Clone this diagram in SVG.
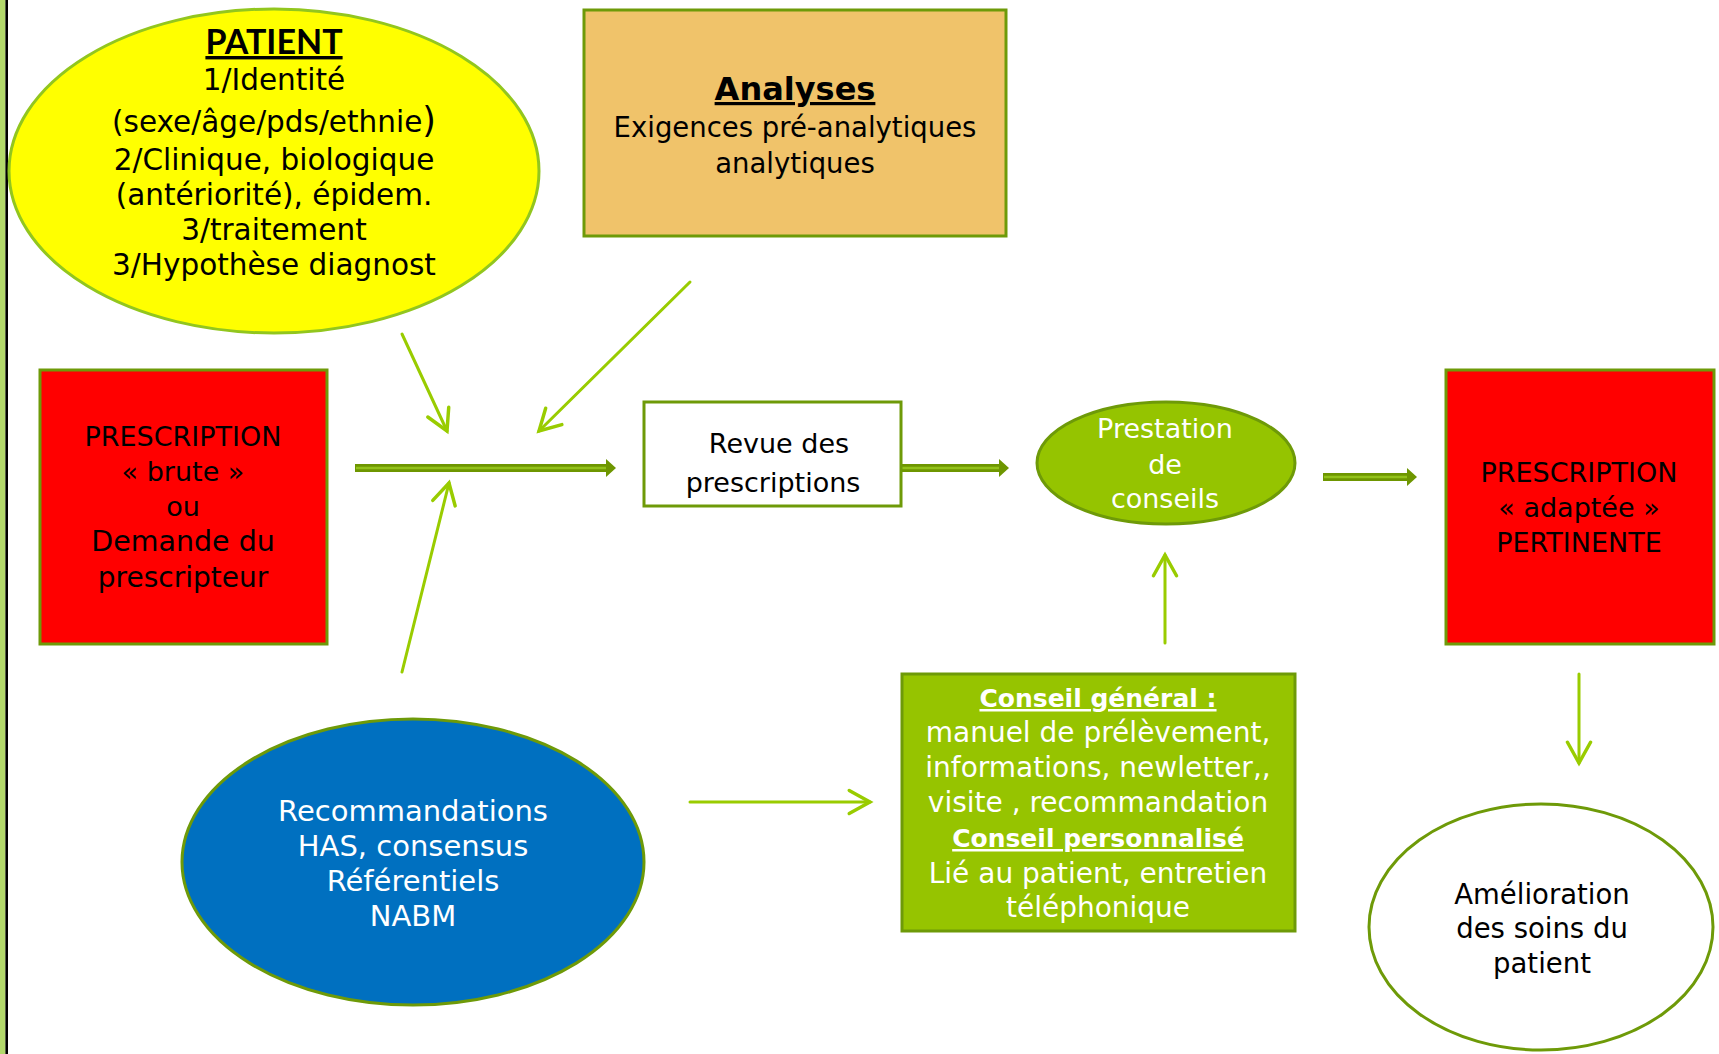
<svg xmlns="http://www.w3.org/2000/svg" width="1719" height="1054" viewBox="0 0 1719 1054">
<style>
  text { font-family: "DejaVu Sans", "Liberation Sans", sans-serif; text-anchor: middle; }
  .b { font-size: 27px; fill: #000; }
  .w { font-size: 27px; fill: #fff; }
  .pat { font-size: 29.5px; fill: #000; }
  .ttl { font-weight: bold; text-decoration: underline; }
  .thin { stroke: #99CC00; stroke-width: 3; fill: none; stroke-linecap: round; }
  .dshaft { stroke: #6E9600; stroke-width: 8; }
  .dinner { stroke: #93C21A; stroke-width: 2.5; }
  .dhead { fill: #6E9600; }
</style>
<defs>
  <marker id="open" markerUnits="userSpaceOnUse" markerWidth="30" markerHeight="30" refX="0" refY="0" viewBox="-22 -13 26 26" orient="auto">
    <path d="M -18 -10 L 0 0 L -18 10" fill="none" stroke="#99CC00" stroke-width="3" stroke-linecap="round" stroke-linejoin="miter"/>
  </marker>
</defs>
<rect width="1719" height="1054" fill="#fff"/>
<g id="sidebar">
  <rect x="0" y="0" width="5.5" height="1054" fill="#B3D96B"/>
  <line x1="6.7" y1="0" x2="6.7" y2="1054" stroke="#000" stroke-width="2.6"/>
</g>

<g id="connectors">
  <line class="thin" x1="402" y1="334" x2="447" y2="431" marker-end="url(#open)"/>
  <line class="thin" x1="690" y1="282" x2="539" y2="431" marker-end="url(#open)"/>
  <line class="thin" x1="402" y1="672" x2="449" y2="483" marker-end="url(#open)"/>
  <line class="thin" x1="1165" y1="643" x2="1165" y2="555" marker-end="url(#open)"/>
  <line class="thin" x1="690" y1="802" x2="870" y2="802" marker-end="url(#open)"/>
  <line class="thin" x1="1579" y1="674" x2="1579" y2="763" marker-end="url(#open)"/>

  <g id="dbl1">
    <line class="dshaft" x1="355" y1="468" x2="608" y2="468"/>
    <line class="dinner" x1="356" y1="468" x2="607" y2="468"/>
    <polygon class="dhead" points="606,459 616,468 606,477"/>
  </g>
  <g id="dbl2">
    <line class="dshaft" x1="901" y1="468" x2="1001" y2="468"/>
    <line class="dinner" x1="902" y1="468" x2="1000" y2="468"/>
    <polygon class="dhead" points="999,459 1009,468 999,477"/>
  </g>
  <g id="dbl3">
    <line class="dshaft" x1="1323" y1="477" x2="1409" y2="477"/>
    <line class="dinner" x1="1324" y1="477" x2="1408" y2="477"/>
    <polygon class="dhead" points="1407,468 1417,477 1407,486"/>
  </g>
</g>

<g id="patient">
  <ellipse cx="274" cy="171" rx="265" ry="162" fill="#FFFF00" stroke="#92C61E" stroke-width="3"/>
  <text x="274" y="54" class="ttl" style="font-family: Lato, 'DejaVu Sans', sans-serif; font-size: 34px;" fill="#000">PATIENT</text>
  <text x="274" y="90" class="pat">1/Identité</text>
  <text x="274" y="132" class="pat">(sexe/âge/pds/ethnie<tspan style="font-size:35px">)</tspan></text>
  <text x="274" y="170" class="pat">2/Clinique, biologique</text>
  <text x="274" y="205" class="pat">(antériorité), épidem.</text>
  <text x="274" y="240" class="pat">3/traitement</text>
  <text x="274" y="275" class="pat">3/Hypothèse diagnost</text>
</g>

<g id="analyses">
  <rect x="584" y="10" width="422" height="226" fill="#F0C36A" stroke="#6E9A08" stroke-width="3"/>
  <text x="795" y="100" class="ttl" style="font-size: 32px;" fill="#000">Analyses</text>
  <text x="795" y="137" class="b" style="font-size:27.5px">Exigences pré-analytiques</text>
  <text x="795" y="173" class="b" style="font-size:27.5px">analytiques</text>
</g>

<g id="prescription-brute">
  <rect x="40" y="370" width="287" height="274" fill="#FF0000" stroke="#6E9A08" stroke-width="3"/>
  <text x="183" y="446" class="b">PRESCRIPTION</text>
  <text x="183" y="481" class="b">« brute »</text>
  <text x="183" y="516" class="b">ou</text>
  <text x="183" y="551" class="b" style="font-size:28.5px">Demande du</text>
  <text x="183" y="587" class="b" style="font-size:28px">prescripteur</text>
</g>

<g id="revue">
  <rect x="644" y="402" width="257" height="104" fill="#fff" stroke="#6E9A08" stroke-width="3"/>
  <text x="779" y="453" class="b">Revue des</text>
  <text x="773" y="492" class="b">prescriptions</text>
</g>

<g id="prestation">
  <ellipse cx="1166" cy="463" rx="129" ry="61" fill="#95C400" stroke="#6E9A08" stroke-width="3"/>
  <text x="1165" y="438" class="w">Prestation</text>
  <text x="1165" y="474" class="w">de</text>
  <text x="1165" y="508" class="w">conseils</text>
</g>

<g id="prescription-adaptee">
  <rect x="1446" y="370" width="268" height="274" fill="#FF0000" stroke="#6E9A08" stroke-width="3"/>
  <text x="1579" y="482" class="b">PRESCRIPTION</text>
  <text x="1579" y="517" class="b">« adaptée »</text>
  <text x="1579" y="552" class="b">PERTINENTE</text>
</g>

<g id="conseil">
  <rect x="902" y="674" width="393" height="257" fill="#96C400" stroke="#6E9A08" stroke-width="3"/>
  <text x="1098" y="707" class="w ttl" style="font-size:25px">Conseil général :</text>
  <text x="1098" y="742" class="w" style="font-size:28px">manuel de prélèvement,</text>
  <text x="1098" y="777" class="w" style="font-size:28px">informations, newletter,,</text>
  <text x="1098" y="812" class="w" style="font-size:28px">visite , recommandation</text>
  <text x="1098" y="847" class="w ttl" style="font-size:25px">Conseil personnalisé</text>
  <text x="1098" y="883" class="w" style="font-size:28px">Lié au patient, entretien</text>
  <text x="1098" y="917" class="w" style="font-size:28px">téléphonique</text>
</g>

<g id="recommandations">
  <ellipse cx="413" cy="862" rx="231" ry="143" fill="#0070C0" stroke="#6E9A08" stroke-width="3"/>
  <text x="413" y="821" class="w" style="font-size:29px">Recommandations</text>
  <text x="413" y="856" class="w" style="font-size:29px">HAS, consensus</text>
  <text x="413" y="891" class="w" style="font-size:29px">Référentiels</text>
  <text x="413" y="926" class="w" style="font-size:29px">NABM</text>
</g>

<g id="amelioration">
  <ellipse cx="1541" cy="927" rx="172" ry="123" fill="#fff" stroke="#6E9A08" stroke-width="3"/>
  <text x="1542" y="904" class="b" style="font-size:27.5px">Amélioration</text>
  <text x="1542" y="938" class="b" style="font-size:27.5px">des soins du</text>
  <text x="1542" y="973" class="b" style="font-size:27.5px">patient</text>
</g>
</svg>
